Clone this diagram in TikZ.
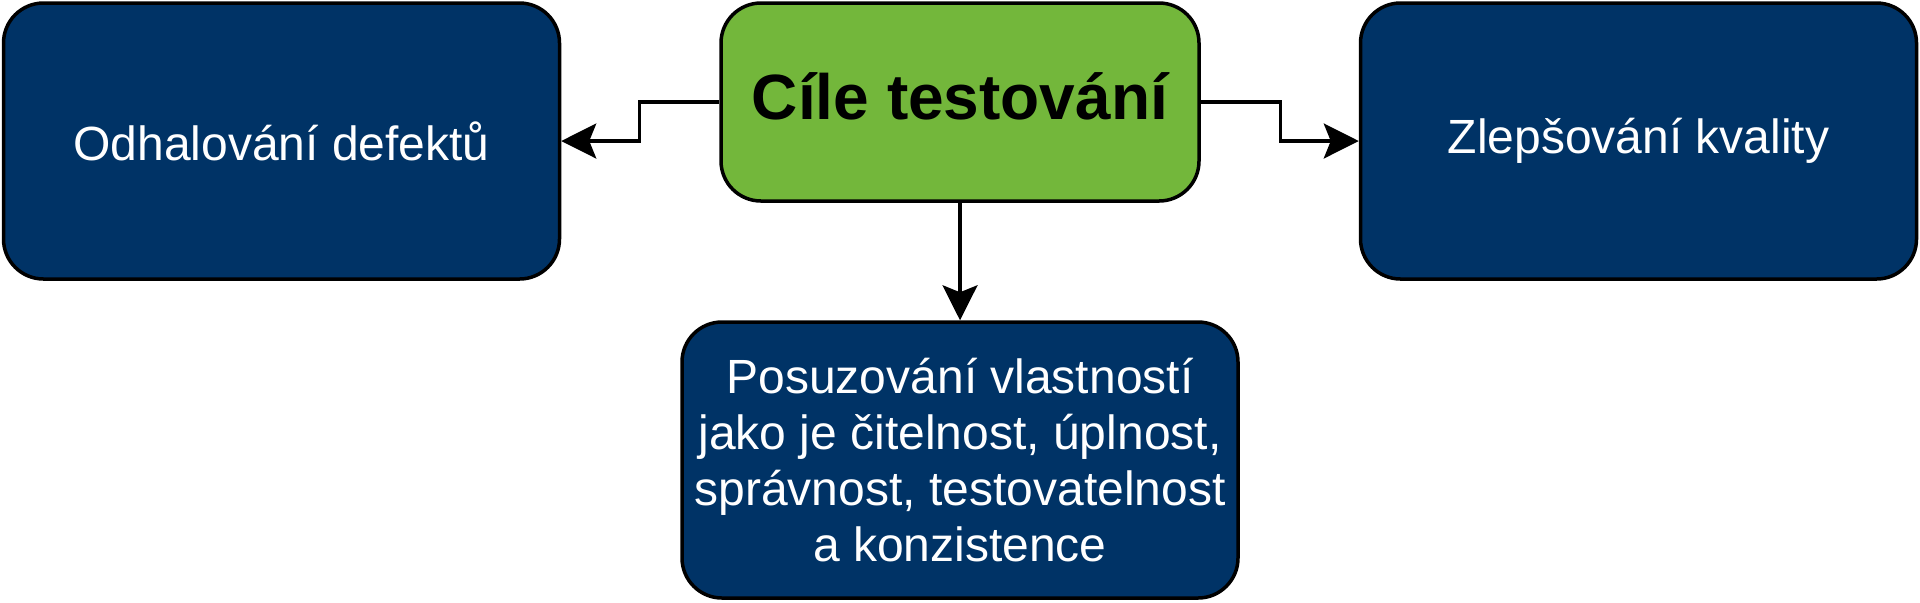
\documentclass[tikz,border=0pt]{standalone}
\usepackage{fontspec}
\setmainfont{Liberation Sans}
\usetikzlibrary{arrows.meta}
\definecolor{darkblue}{HTML}{003366}
\definecolor{leafgreen}{HTML}{73B73B}

\begin{document}
\begin{tikzpicture}[x=0.5pt, y=-0.5pt,
    goalbox/.style={draw=black, line width=1.75pt, rounded corners=20pt, fill=leafgreen,
        minimum width=239pt, minimum height=99pt, inner sep=0pt, text depth=6pt,
        font=\bfseries\fontsize{32pt}{38pt}\selectfont},
    aimbox/.style={draw=black, line width=1.75pt, rounded corners=20pt, fill=darkblue,
        text=white, minimum width=278pt, minimum height=138pt, inner sep=0pt,
        align=center, font=\fontsize{24pt}{28pt}\selectfont},
    arr/.style={line width=1.6pt, -{Stealth[length=17.5pt, width=17.5pt, inset=3.5pt]}}]
    \useasboundingbox (0,0) rectangle (1920,602);

    \node[goalbox] (goal) at (960,102) {Cíle testování};
    \node[aimbox] (defects) at (281.5,141) {Odhalování defektů};
    \node[aimbox] (quality) at (1638.5,141) {Zlepšování kvality};
    \node[aimbox] (props) at (960,460) {Posuzování vlastností\\jako je čitelnost, úplnost,\\správnost, testovatelnost\\a konzistence};

    \draw[arr] (goal.west) -- ++(-80,0) |- (defects.east);
    \draw[arr] (goal.east) -- ++(80,0) |- (quality.west);
    \draw[arr] (goal.south) -- (props.north);
\end{tikzpicture}
\end{document}
